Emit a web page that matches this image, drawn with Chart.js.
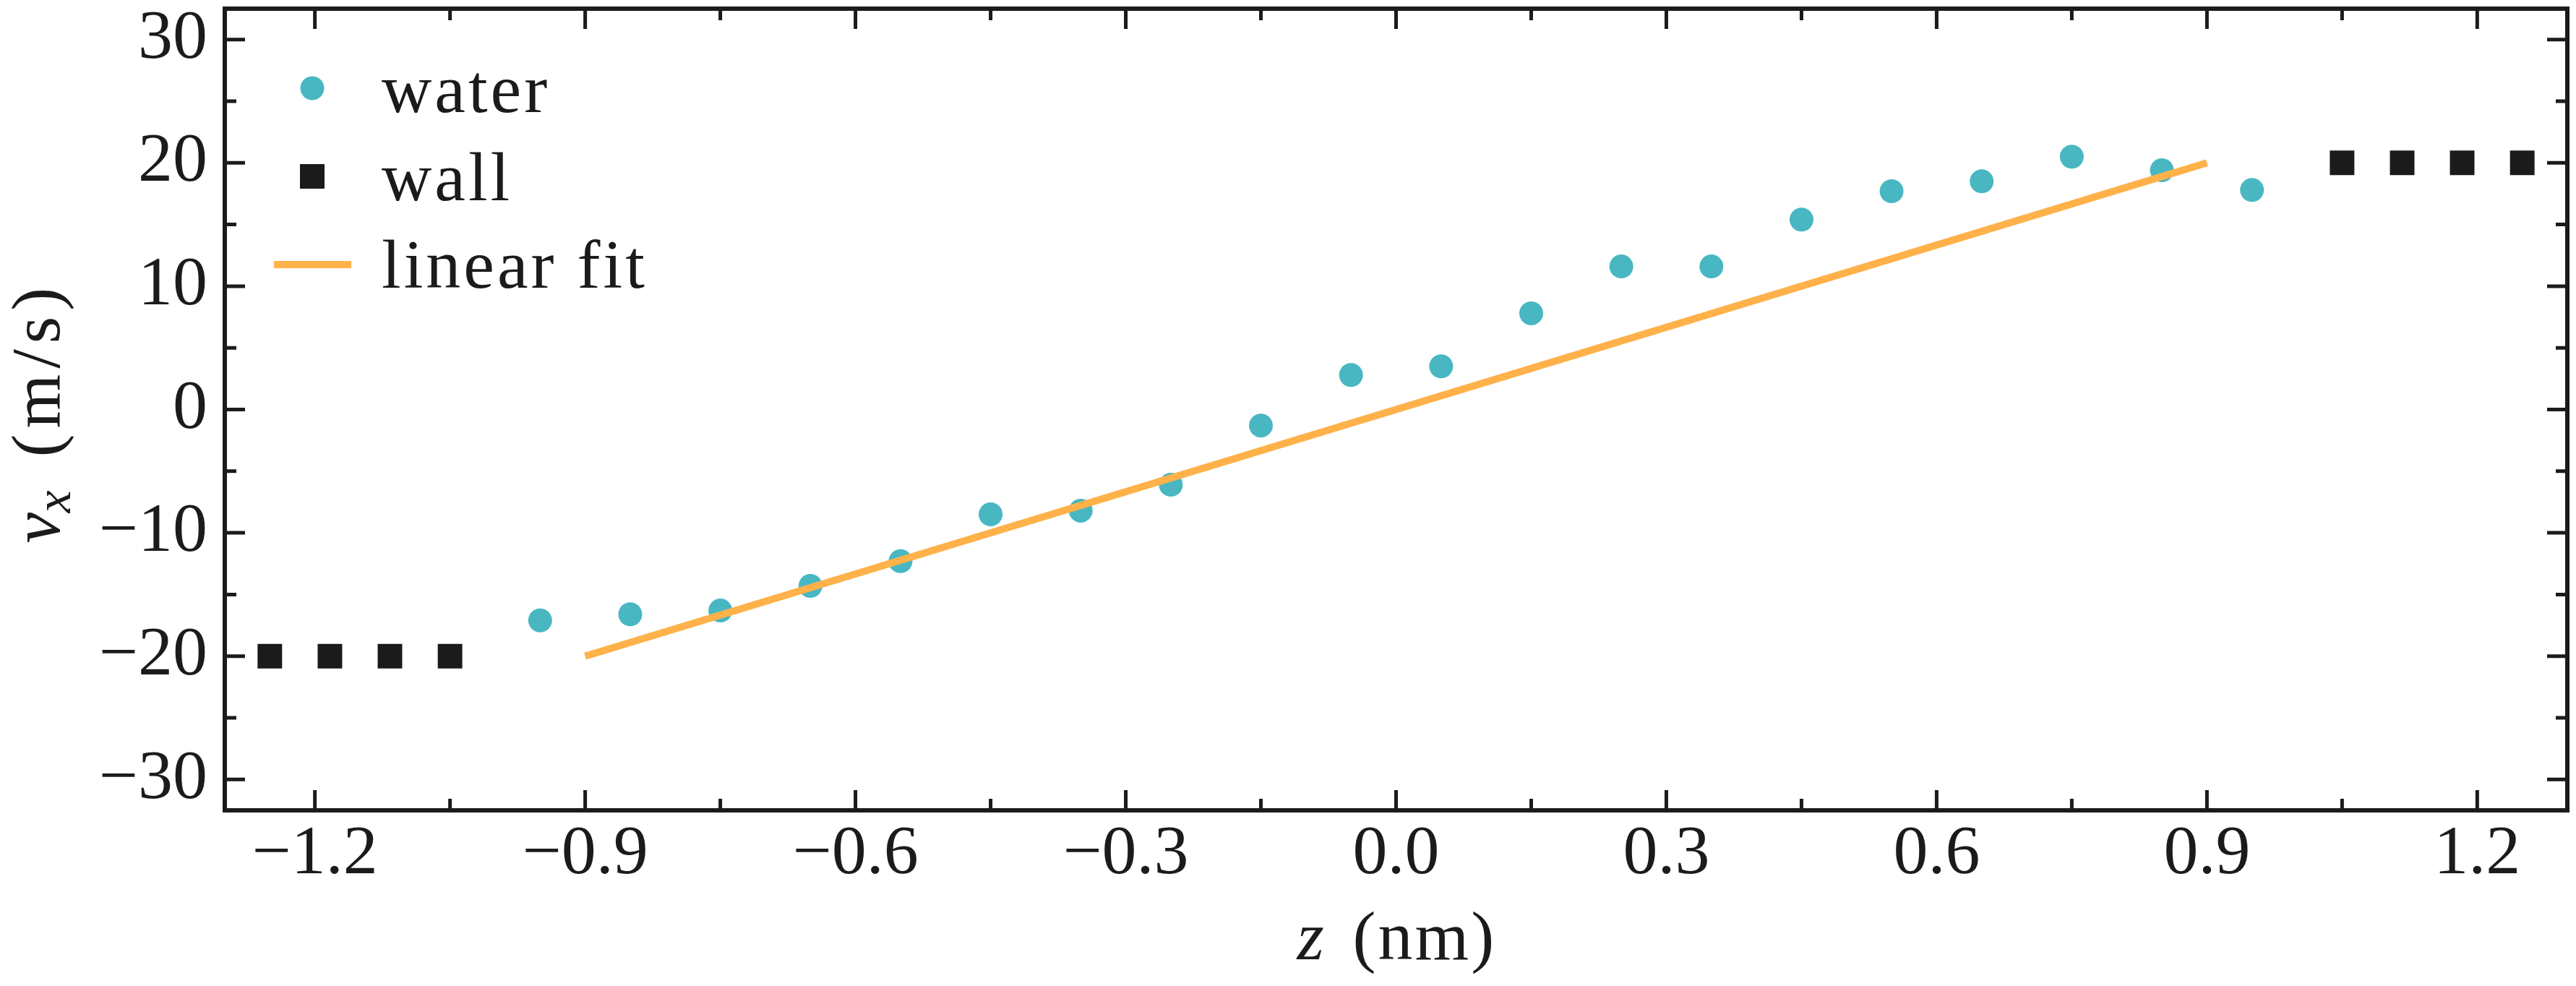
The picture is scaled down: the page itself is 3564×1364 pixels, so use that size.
<!DOCTYPE html>
<html><head><meta charset="utf-8">
<script src="https://cdn.jsdelivr.net/npm/chart.js@4.4.1/dist/chart.umd.min.js"></script>
<style>html,body{margin:0;padding:0;background:#fff;}canvas{display:block;}</style>
</head><body>
<canvas id="c" width="3564" height="1364" style="width:3564px;height:1364px"></canvas>
<script>
// ---- data ----
const waterZ = [-0.95,-0.85,-0.75,-0.65,-0.55,-0.45,-0.35,-0.25,-0.15,-0.05,0.05,0.15,0.25,0.35,0.45,0.55,0.65,0.75,0.85,0.95];
const waterV = [-17.1,-16.6,-16.3,-14.3,-12.3,-8.5,-8.2,-6.1,-1.3,2.8,3.5,7.8,11.6,11.6,15.4,17.7,18.5,20.5,19.4,17.8];
const wallZ = [-1.25,-1.1833,-1.1167,-1.05,1.05,1.1167,1.1833,1.25];
const wallV = [-20,-20,-20,-20,20,20,20,20];
const fitZ = [-0.9, 0.9];
const fitV = [-20, 20];
const xTicks = [-1.2,-0.9,-0.6,-0.3,0.0,0.3,0.6,0.9,1.2];
const xTickLabels = ['\u22121.2','\u22120.9','\u22120.6','\u22120.3','0.0','0.3','0.6','0.9','1.2'];
const xMinorTicks = [-1.05,-0.75,-0.45,-0.15,0.15,0.45,0.75,1.05];
const yTicks = [-30,-20,-10,0,10,20,30];
const yTickLabels = ['\u221230','\u221220','\u221210','0','10','20','30'];
const yMinorTicks = [-25,-15,-5,5,15,25];
const seriesNames = ['water','wall','linear fit'];

const INK = '#1b1b1b';
const TEAL = '#48b7c2';
const ORANGE = '#ffb14a';
const FONT = '"Liberation Serif", "DejaVu Serif", serif';

const toXY = (xs, ys) => xs.map((x, i) => ({x: x, y: ys[i]}));
const noPad = s => { s.paddingTop = 0; s.paddingBottom = 0; s.paddingLeft = 0; s.paddingRight = 0; };

const overlay = {
  id: 'overlay',
  afterDraw(chart) {
    const ctx = chart.ctx, a = chart.chartArea, xs = chart.scales.x, ys = chart.scales.y;
    ctx.save();
    // frame
    ctx.strokeStyle = INK;
    ctx.lineWidth = 6;
    ctx.strokeRect(a.left, a.top, a.right - a.left, a.bottom - a.top);
    // inward ticks
    ctx.lineWidth = 5;
    ctx.lineCap = 'butt';
    const xt = (vals, len) => vals.forEach(v => {
      const p = xs.getPixelForValue(v);
      ctx.beginPath();
      ctx.moveTo(p, a.bottom); ctx.lineTo(p, a.bottom - len);
      ctx.moveTo(p, a.top); ctx.lineTo(p, a.top + len);
      ctx.stroke();
    });
    const yt = (vals, len) => vals.forEach(v => {
      const p = ys.getPixelForValue(v);
      ctx.beginPath();
      ctx.moveTo(a.left, p); ctx.lineTo(a.left + len, p);
      ctx.moveTo(a.right, p); ctx.lineTo(a.right - len, p);
      ctx.stroke();
    });
    xt(xTicks, 28); xt(xMinorTicks, 16);
    yt(yTicks, 28); yt(yMinorTicks, 16);

    // legend
    const ds = chart.data.datasets;
    const lx = a.left + 121;
    ctx.fillStyle = ds[0].backgroundColor;
    ctx.beginPath(); ctx.arc(lx, a.top + 110, 16.5, 0, Math.PI * 2); ctx.fill();
    ctx.fillStyle = ds[1].backgroundColor;
    ctx.fillRect(lx - 17, a.top + 232 - 17, 34, 34);
    ctx.strokeStyle = ds[2].borderColor; ctx.lineWidth = 10;
    ctx.beginPath(); ctx.moveTo(lx - 53, a.top + 354); ctx.lineTo(lx + 54, a.top + 354); ctx.stroke();
    ctx.fillStyle = INK;
    ctx.font = '96px ' + FONT;
    ctx.textAlign = 'left'; ctx.textBaseline = 'alphabetic';
    try { ctx.letterSpacing = '4px'; } catch (e) {}
    const tx = a.left + 217;
    ctx.fillText(ds[0].label, tx, a.top + 143);
    ctx.fillText(ds[1].label, tx, a.top + 265);
    ctx.fillText(ds[2].label, tx, a.top + 386);
    try { ctx.letterSpacing = '0px'; } catch (e) {}

    // x axis title: z (nm)
    const cx = (a.left + a.right) / 2;
    const sx = cx - 137;
    ctx.font = 'italic 96px ' + FONT;
    ctx.fillText('z', sx, 1327);
    ctx.font = '96px ' + FONT;
    try { ctx.letterSpacing = '3px'; } catch (e) {}
    ctx.fillText('(nm)', sx + 77, 1327);
    try { ctx.letterSpacing = '0px'; } catch (e) {}

    // y axis title: v_x (m/s)
    const cy = (a.top + a.bottom) / 2;
    ctx.translate(82, cy + 4);
    ctx.rotate(-Math.PI / 2);
    const s0 = -181;
    ctx.font = 'italic 96px ' + FONT;
    ctx.fillText('v', s0, 0);
    ctx.font = 'italic 70px ' + FONT;
    ctx.fillText('x', s0 + 42, 15);
    ctx.font = '96px ' + FONT;
    try { ctx.letterSpacing = '8px'; } catch (e) {}
    ctx.fillText('(m/s)', s0 + 119, 0);
    try { ctx.letterSpacing = '0px'; } catch (e) {}
    ctx.restore();
  }
};

new Chart(document.getElementById('c'), {
  type: 'scatter',
  data: {
    datasets: [
      { label: seriesNames[0], data: toXY(waterZ, waterV), backgroundColor: TEAL, borderWidth: 0,
        pointStyle: 'circle', pointRadius: 16.5, order: 1 },
      { label: seriesNames[1], data: toXY(wallZ, wallV), backgroundColor: INK, borderWidth: 0,
        pointStyle: 'rect', pointRadius: 24, order: 2 },
      { type: 'line', label: seriesNames[2], data: toXY(fitZ, fitV), borderColor: ORANGE, backgroundColor: ORANGE,
        borderWidth: 10, borderCapStyle: 'butt', pointRadius: 0, showLine: true, fill: false, order: 0 }
    ]
  },
  options: {
    responsive: false,
    devicePixelRatio: 1,
    animation: false,
    events: [],
    layout: { autoPadding: false, padding: { top: 12, right: 12, left: 0, bottom: 0 } },
    plugins: { legend: { display: false }, tooltip: { enabled: false }, title: { display: false } },
    scales: {
      x: {
        type: 'linear', min: -1.3, max: 1.3,
        grid: { display: false, drawTicks: false },
        border: { display: false },
        afterBuildTicks: s => { s.ticks = xTicks.map(v => ({ value: v })); },
        afterFit: s => { s.height = 243; noPad(s); },
        ticks: { color: INK, padding: 14, maxRotation: 0, autoSkip: false,
          font: { family: FONT, size: 96, lineHeight: 1 },
          callback: (v, i) => xTickLabels[i] }
      },
      y: {
        type: 'linear', min: -32.5, max: 32.5,
        grid: { display: false, drawTicks: false },
        border: { display: false },
        afterBuildTicks: s => { s.ticks = yTicks.map(v => ({ value: v })); },
        afterFit: s => { s.width = 311; noPad(s); },
        ticks: { color: INK, padding: 24, autoSkip: false,
          font: { family: FONT, size: 96, lineHeight: 1 },
          callback: (v, i) => yTickLabels[i] }
      }
    }
  },
  plugins: [overlay]
});
</script>
</body></html>
